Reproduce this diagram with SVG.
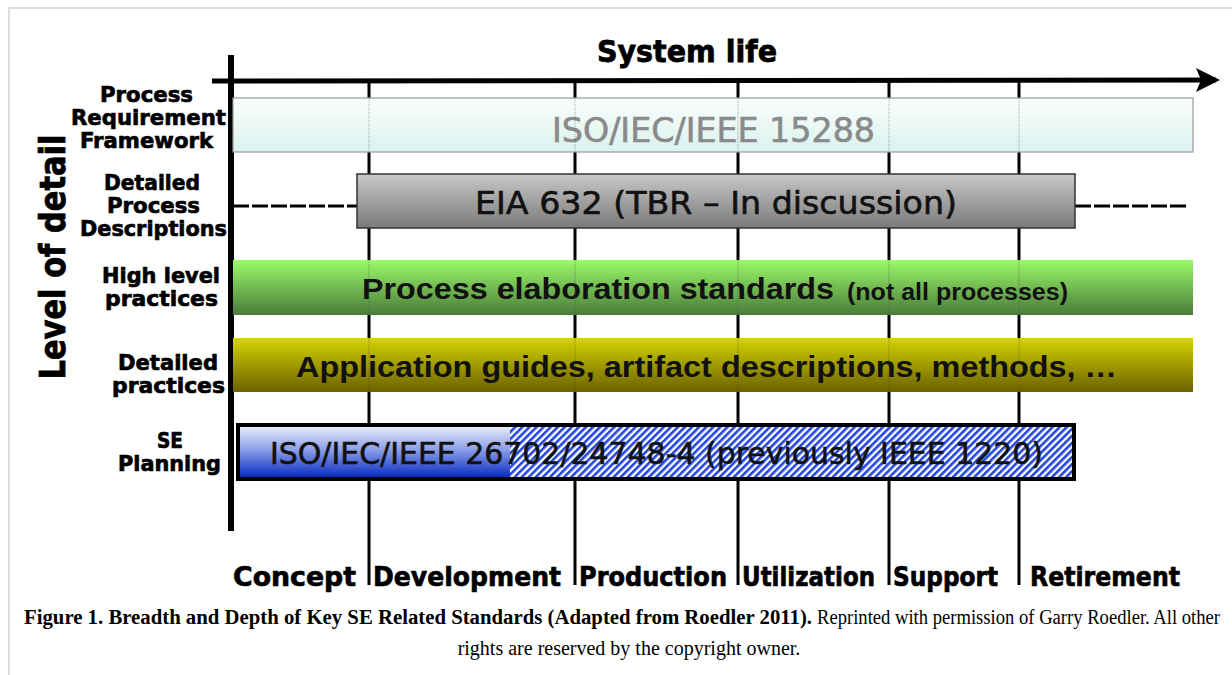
<svg xmlns="http://www.w3.org/2000/svg" width="1232" height="675" viewBox="0 0 1232 675">
<defs>
<linearGradient id="g15288" x1="0" y1="0" x2="0" y2="1"><stop offset="0" stop-color="#fbfefe"/><stop offset="1" stop-color="#d9f2ed"/></linearGradient>
<linearGradient id="gEIA" x1="0" y1="0" x2="0" y2="1"><stop offset="0" stop-color="#c8c8c8"/><stop offset="1" stop-color="#7a7a7a"/></linearGradient>
<linearGradient id="gGreen" x1="0" y1="0" x2="0" y2="1"><stop offset="0" stop-color="#9bfa68"/><stop offset="1" stop-color="#4a7b3b"/></linearGradient>
<linearGradient id="gYellow" x1="0" y1="0" x2="0" y2="1"><stop offset="0" stop-color="#d4d400"/><stop offset="1" stop-color="#6b6100"/></linearGradient>
<linearGradient id="gBlue" x1="0" y1="0" x2="0" y2="1"><stop offset="0" stop-color="#e6eaf8"/><stop offset="0.45" stop-color="#8c9fe8"/><stop offset="1" stop-color="#0a2dc2"/></linearGradient>
<pattern id="hatch" patternUnits="userSpaceOnUse" width="5" height="5" patternTransform="rotate(45)"><rect width="5" height="5" fill="#ffffff"/><rect width="2.6" height="5" fill="#2345d8"/></pattern>
<marker id="arrow" viewBox="0 0 24 24" refX="20" refY="12" markerWidth="24" markerHeight="24" markerUnits="userSpaceOnUse" orient="auto"><path d="M0,0 L24,12 L0,24 L5,12 Z" fill="#000"/></marker>
</defs>
<style>
.lbl{font-family:"DejaVu Sans",sans-serif;font-weight:bold;font-size:22px;fill:#000;stroke:#000;stroke-width:0.7;text-anchor:middle}
.phase{font-family:"DejaVu Sans",sans-serif;font-weight:bold;font-size:27px;fill:#000;stroke:#000;stroke-width:0.7}
.heavy{font-family:"DejaVu Sans",sans-serif;font-weight:bold;fill:#000;stroke:#000;stroke-width:0.8;text-anchor:middle}
.tick{stroke:#000;stroke-width:3;fill:none}
.thin{stroke:#444;stroke-width:0.8;stroke-dasharray:1 1;opacity:0.6}
.bartxt{font-family:"DejaVu Sans",sans-serif;text-anchor:start}
.armtxt{font-family:"Liberation Sans",Arial,sans-serif;font-weight:bold;fill:#111}
.cap{font-family:"Liberation Serif","Times New Roman",serif;font-size:20px;fill:#000}
</style>
<rect width="1232" height="675" fill="#fff"/>
<path d="M9,675 V8 H1232" fill="none" stroke="#dcdcdc" stroke-width="2"/>

<g id="connectors">
<line class="tick" x1="369" y1="82" x2="369" y2="585"/>
<line class="tick" x1="575" y1="82" x2="575" y2="585"/>
<line class="tick" x1="738" y1="82" x2="738" y2="585"/>
<line class="tick" x1="889" y1="82" x2="889" y2="585"/>
<line class="tick" x1="1019" y1="82" x2="1019" y2="585"/>
<line x1="231" y1="55" x2="231" y2="531" stroke="#000" stroke-width="6"/>
<line x1="212" y1="81" x2="1216" y2="80" stroke="#000" stroke-width="5" marker-end="url(#arrow)"/>
<line x1="233" y1="206" x2="357" y2="206" stroke="#000" stroke-width="3" stroke-dasharray="16 3"/>
<line x1="1075" y1="206" x2="1187" y2="206" stroke="#000" stroke-width="3" stroke-dasharray="16 3"/>
</g>

<g id="title"><text class="heavy" x="687" y="62" font-size="30" textLength="180" lengthAdjust="spacingAndGlyphs">System life</text></g>
<g id="axis-label"><text class="heavy" transform="translate(65,257) rotate(-90)" font-size="35" textLength="245" lengthAdjust="spacingAndGlyphs">Level of detail</text></g>

<g id="label-prf">
<text class="lbl" x="146.5" y="102" textLength="93" lengthAdjust="spacingAndGlyphs">Process</text>
<text class="lbl" x="148.5" y="125" textLength="155" lengthAdjust="spacingAndGlyphs">Requirement</text>
<text class="lbl" x="146.5" y="148" textLength="133" lengthAdjust="spacingAndGlyphs">Framework</text>
</g>
<g id="label-dpd">
<text class="lbl" x="152" y="190" textLength="96" lengthAdjust="spacingAndGlyphs">Detailed</text>
<text class="lbl" x="153.5" y="213" textLength="93" lengthAdjust="spacingAndGlyphs">Process</text>
<text class="lbl" x="153.5" y="236" textLength="147" lengthAdjust="spacingAndGlyphs">Descriptions</text>
</g>
<g id="label-hlp">
<text class="lbl" x="161" y="283" textLength="118" lengthAdjust="spacingAndGlyphs">High level</text>
<text class="lbl" x="161.5" y="306" textLength="113" lengthAdjust="spacingAndGlyphs">practices</text>
</g>
<g id="label-dp">
<text class="lbl" x="168" y="370" textLength="100" lengthAdjust="spacingAndGlyphs">Detailed</text>
<text class="lbl" x="168.5" y="393" textLength="113" lengthAdjust="spacingAndGlyphs">practices</text>
</g>
<g id="label-sep">
<text class="lbl" x="170" y="448" textLength="26" lengthAdjust="spacingAndGlyphs">SE</text>
<text class="lbl" x="169.5" y="471" textLength="103" lengthAdjust="spacingAndGlyphs">Planning</text>
</g>

<g id="bar-15288">
<rect x="233" y="98" width="960" height="54" fill="url(#g15288)" stroke="#999" stroke-width="1.2"/>
<text class="bartxt" x="552" y="142" font-size="33" fill="#8a8a8a" stroke="#8a8a8a" stroke-width="0.6" textLength="323" lengthAdjust="spacingAndGlyphs">ISO/IEC/IEEE 15288</text>
</g>
<g id="bar-eia632">
<rect x="357" y="174" width="718" height="54" fill="url(#gEIA)" stroke="#333" stroke-width="1.5"/>
<text class="bartxt" x="475" y="214" font-size="32" fill="#111" stroke="#111" stroke-width="0.6" textLength="482" lengthAdjust="spacingAndGlyphs">EIA 632 (TBR – In discussion)</text>
</g>
<g id="bar-process-elaboration">
<rect x="233" y="260" width="960" height="55" fill="url(#gGreen)"/>
<text class="armtxt" x="362" y="299" font-size="30" textLength="472" lengthAdjust="spacingAndGlyphs">Process elaboration standards</text>
<text class="armtxt" x="847" y="300" font-size="23" textLength="221" lengthAdjust="spacingAndGlyphs">(not all processes)</text>
</g>
<g id="bar-application-guides">
<rect x="233" y="338" width="960" height="54" fill="url(#gYellow)"/>
<text class="armtxt" x="296" y="377" font-size="30" textLength="821" lengthAdjust="spacingAndGlyphs">Application guides, artifact descriptions, methods, …</text>
</g>
<g id="bar-26702">
<rect x="238" y="425" width="836" height="54" fill="url(#hatch)" stroke="#000" stroke-width="4"/>
<rect x="240" y="427" width="270" height="50" fill="url(#gBlue)"/>
<text class="bartxt" x="270" y="464" font-size="30" fill="#111" stroke="#111" stroke-width="0.6" textLength="773" lengthAdjust="spacingAndGlyphs">ISO/IEC/IEEE 26702/24748-4 (previously IEEE 1220)</text>
</g>

<g id="tick-overlays">
<line class="thin" x1="369" y1="98" x2="369" y2="152"/><line class="thin" x1="575" y1="98" x2="575" y2="152"/><line class="thin" x1="738" y1="98" x2="738" y2="152"/><line class="thin" x1="889" y1="98" x2="889" y2="152"/><line class="thin" x1="1019" y1="98" x2="1019" y2="152"/>
<line class="thin" x1="369" y1="260" x2="369" y2="315"/><line class="thin" x1="575" y1="260" x2="575" y2="315"/><line class="thin" x1="738" y1="260" x2="738" y2="315"/><line class="thin" x1="889" y1="260" x2="889" y2="315"/><line class="thin" x1="1019" y1="260" x2="1019" y2="315"/>
<line class="thin" x1="369" y1="338" x2="369" y2="392"/><line class="thin" x1="575" y1="338" x2="575" y2="392"/><line class="thin" x1="738" y1="338" x2="738" y2="392"/><line class="thin" x1="889" y1="338" x2="889" y2="392"/><line class="thin" x1="1019" y1="338" x2="1019" y2="392"/>
</g>

<g id="phases">
<text class="phase" x="233" y="586" textLength="123" lengthAdjust="spacingAndGlyphs">Concept</text>
<text class="phase" x="373" y="586" textLength="188" lengthAdjust="spacingAndGlyphs">Development</text>
<text class="phase" x="579" y="586" textLength="148" lengthAdjust="spacingAndGlyphs">Production</text>
<text class="phase" x="742" y="586" textLength="133" lengthAdjust="spacingAndGlyphs">Utilization</text>
<text class="phase" x="893" y="586" textLength="105" lengthAdjust="spacingAndGlyphs">Support</text>
<text class="phase" x="1030" y="586" textLength="150" lengthAdjust="spacingAndGlyphs">Retirement</text>
</g>

<g id="caption">
<text class="cap" x="24" y="624" font-weight="bold" textLength="788" lengthAdjust="spacingAndGlyphs">Figure 1. Breadth and Depth of Key SE Related Standards (Adapted from Roedler 2011).</text>
<text class="cap" x="817" y="624" font-size="18.4" textLength="403" lengthAdjust="spacingAndGlyphs">Reprinted with permission of Garry Roedler. All other</text>
<text class="cap" x="629" y="655" text-anchor="middle">rights are reserved by the copyright owner.</text>
</g>
</svg>
